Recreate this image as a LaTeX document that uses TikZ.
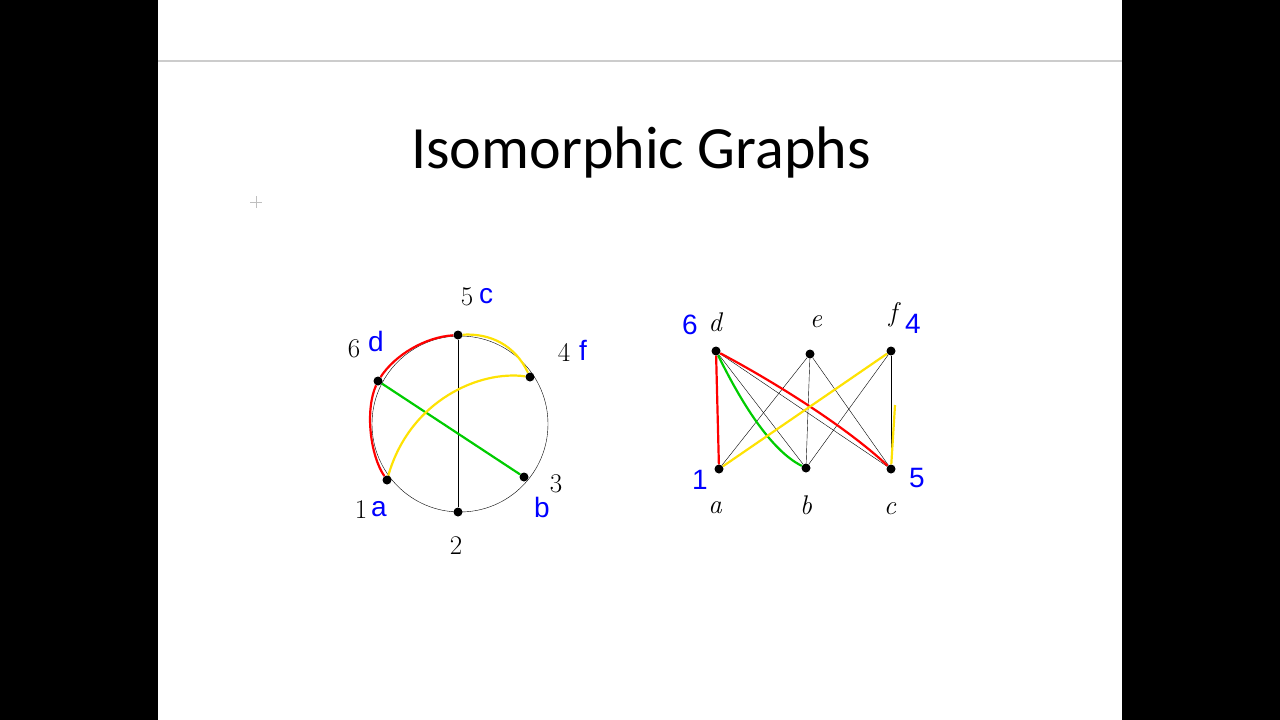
\documentclass[tikz,border=0pt]{standalone}
\usepackage{fontspec}
\newfontfamily\titlefont{Carlito}
\newfontfamily\handfont{Liberation Sans}
\begin{document}
\begin{tikzpicture}[x=1pt,y=-1pt,
  vtx/.style={circle,fill=black,inner sep=0pt,minimum size=9pt},
  lab/.style={font=\fontsize{27}{29}\selectfont,inner sep=0pt},
  ilab/.style={font=\itshape\fontsize{27}{29}\selectfont,inner sep=0pt},
  hand/.style={font=\handfont\fontsize{28}{30}\selectfont,text=blue,inner sep=0pt},
  col/.style={line width=2.2pt}]
\useasboundingbox (0,0) rectangle (1280,720);
\fill[black] (0,0) rectangle (158,720);
\fill[black] (1122,0) rectangle (1280,720);
\draw[gray!40,line width=1.5pt] (158,61) -- (1122,61);
\draw[gray!50] (250,202) -- (262,202) (256,196) -- (256,208);
\node[font=\titlefont\fontsize{60}{64}\selectfont] (title) at (641,153) {Isomorphic Graphs};
% left graph
\coordinate (C) at (460,424);
\draw[thin] (C) circle (88);
\node[vtx] (v5) at (458,335) {};
\node[vtx] (v4) at (530,377) {};
\node[vtx] (v3) at (524,477) {};
\node[vtx] (v2) at (458,512) {};
\node[vtx] (v1) at (387,480) {};
\node[vtx] (v6) at (378,381) {};
\draw[thin] (v5) -- (v2);
\draw[thin] (v6) -- (v3);
\draw[thin] (v1) .. controls (410,400) and (480,370) .. (v4);
\draw[col,green!80!black] (v6) -- (v3);
\draw[col,yellow!85!orange] (v1) .. controls (410,400) and (480,370) .. (v4);
\draw[col,red] (v6) .. controls (395,355) and (425,337) .. (v5);
\draw[col,red] (v6) .. controls (365,410) and (370,455) .. (v1);
\draw[col,yellow!85!orange] (v5) .. controls (490,333) and (515,345) .. (v4);
\node[lab] (l5) at (467,297) {5};
\node[hand] at (486,296) {c};
\node[lab] (l4) at (564,352) {4};
\node[hand] at (583,350) {f};
\node[lab] (l3) at (556,484) {3};
\node[hand] at (542,507) {b};
\node[lab] (l2) at (456,546) {2};
\node[lab] (l1) at (361,510) {1};
\node[hand] at (379,509) {a};
\node[lab] (l6) at (354,349) {6};
\node[hand] at (376,341) {d};
% right graph
\node[vtx] (d) at (716,351) {};
\node[vtx] (e) at (810,354) {};
\node[vtx] (f) at (891,351) {};
\node[vtx] (a) at (719,469) {};
\node[vtx] (b) at (806,468) {};
\node[vtx] (c) at (891,469) {};
\foreach \u in {d,e,f}\foreach \w in {a,b,c}\draw[thin] (\u) -- (\w);
\draw[col,red] (d) -- (a);
\draw[col,red] (d) .. controls (780,385) and (850,430) .. (c);
\draw[col,green!80!black] (d) .. controls (740,400) and (770,450) .. (b);
\draw[col,yellow!85!orange] (f) -- (a);
\draw[col,yellow!85!orange] (895,405) -- (c);
\node[ilab] at (715,322) {d};
\node[ilab] at (816,322) {e};
\node[ilab] at (893,315) {f};
\node[ilab] at (715,508) {a};
\node[ilab] at (806,505) {b};
\node[ilab] at (890,509) {c};
\node[hand] at (690,325) {6};
\node[hand] at (913,324) {4};
\node[hand] at (700,480) {1};
\node[hand] at (917,478) {5};
\end{tikzpicture}
\end{document}
